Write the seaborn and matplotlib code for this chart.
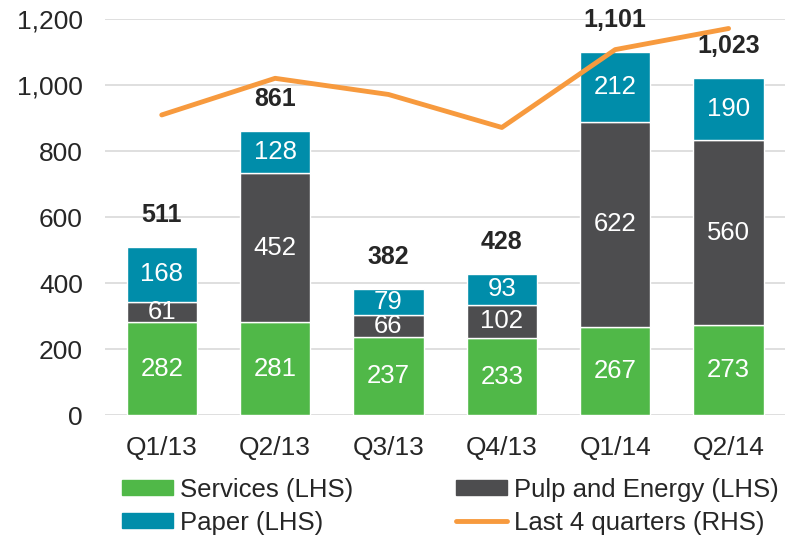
import numpy as np
import pandas as pd
import matplotlib.pyplot as plt
import seaborn as sns
from matplotlib.patches import Patch
from matplotlib.lines import Line2D

quarters = ['Q1/13', 'Q2/13', 'Q3/13', 'Q4/13', 'Q1/14', 'Q2/14']
services = [282, 281, 237, 233, 267, 273]
pulp = [61, 452, 66, 102, 622, 560]
paper = [168, 128, 79, 93, 212, 190]
totals = [511, 861, 382, 428, 1101, 1023]
last4 = [910, 1021, 972, 872, 1108, 1172]

c_serv = '#50B848'
c_pulp = '#4D4D4F'
c_paper = '#008DAA'
c_line = '#F79A3E'

sns.set_style('white')
plt.rcParams['font.family'] = ['Liberation Sans', 'DejaVu Sans']

df = pd.DataFrame({'q': quarters, 'services': services, 'pulp': pulp, 'paper': paper})
df['b2'] = df['services']
df['b3'] = df['services'] + df['pulp']

fig = plt.figure(figsize=(7.9, 5.35), dpi=100)
ax = fig.add_axes([0.133, 0.224, 0.861, 0.740])

w = 0.62
sns.barplot(data=df, x='q', y='services', color=c_serv, width=w, saturation=1, ax=ax, zorder=3)
sns.barplot(data=df, x='q', y='pulp', bottom=df['b2'], color=c_pulp, width=w, saturation=1, ax=ax, zorder=3)
sns.barplot(data=df, x='q', y='paper', bottom=df['b3'], color=c_paper, width=w, saturation=1, ax=ax, zorder=3)

# segment labels
for i in range(len(quarters)):
    segs = [(0, services[i]), (services[i], pulp[i]), (services[i] + pulp[i], paper[i])]
    for b, v in segs:
        ax.text(i, b + v / 2, str(v), ha='center', va='center', color='white', fontsize=18.5, zorder=5)
    ax.annotate(f'{totals[i]:,}', (i, totals[i]), xytext=(0, 23), textcoords='offset points',
                ha='center', va='center', fontsize=18, fontweight='bold', zorder=5)

sns.lineplot(x=np.arange(len(quarters)), y=last4, color=c_line, linewidth=3.5, ax=ax, zorder=4)

ax.set_ylim(0, 1200)
ax.set_xlim(-0.5, 5.5)
ax.set_yticks(range(0, 1201, 200))
ax.set_yticklabels([f'{v:,}' for v in range(0, 1201, 200)])
ax.yaxis.grid(True, color='#D9D9D9', linewidth=1.2, zorder=0)
ax.set_axisbelow(True)
ax.set_xlabel('')
ax.set_ylabel('')
ax.tick_params(axis='both', labelsize=19, length=0)
ax.tick_params(axis='y', pad=16)
ax.tick_params(axis='x', pad=15)
for s in ax.spines.values():
    s.set_visible(False)

handles = [Patch(color=c_serv), Patch(color=c_paper), Patch(color=c_pulp),
           Line2D([0], [0], color=c_line, linewidth=3.5)]
labels = ['Services (LHS)', 'Paper (LHS)', 'Pulp and Energy (LHS)', 'Last 4 quarters (RHS)']
fig.legend(handles, labels, ncol=2, loc='lower left', bbox_to_anchor=(0.128, -0.038),
           frameon=False, fontsize=18.5, handlelength=2.0, handleheight=0.55, handletextpad=0.27,
           columnspacing=4.0, labelspacing=0.35, borderpad=0.3)

fig.savefig('out.png', dpi=100)
